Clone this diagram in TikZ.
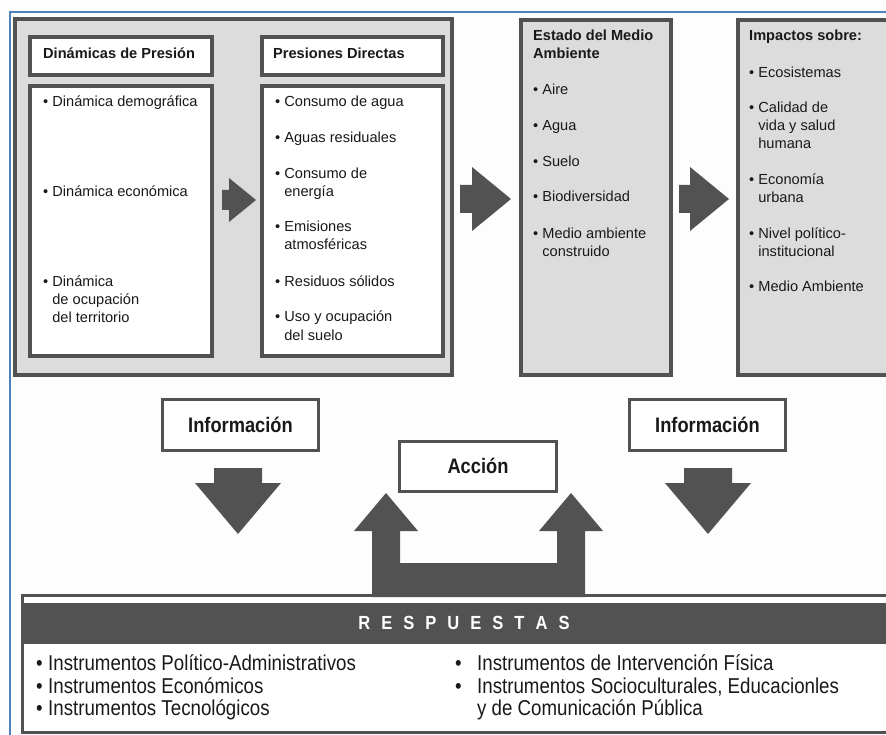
\documentclass[tikz,border=0pt]{standalone}
\usepackage{fontspec}
\setmainfont{Liberation Sans}
\newfontfamily\narrowsans[FakeStretch=0.87]{Liberation Sans}

\definecolor{frameblue}{RGB}{79,129,189}
\definecolor{ink}{RGB}{82,82,82}
\definecolor{panel}{RGB}{220,220,220}
\definecolor{paper}{RGB}{253,253,253}
\definecolor{txt}{RGB}{25,25,25}

% stacked lines sharing the baseline of the first one
\newcommand\stacklines[1]{\vtop{\baselineskip=18pt\halign{##\hfil\cr#1\crcr}}}

\begin{document}
\begin{tikzpicture}[x=1pt,y=-1pt,
  panelbox/.style={draw=ink,line width=4pt,fill=panel},
  whitebox/.style={draw=ink,line width=3.5pt,fill=white},
  tagbox/.style={draw=ink,line width=3pt,fill=white},
  blockarrow/.style={fill=ink,draw=none},
  body/.style={font=\fontsize{14.6}{18}\selectfont,anchor=base west,inner sep=0pt,text=txt},
  head/.style={body,font=\fontsize{14.6}{18}\selectfont\bfseries},
  tag/.style={font=\narrowsans\fontsize{21}{24}\selectfont\bfseries,anchor=base,inner sep=0pt,text=txt},
  resp/.style={font=\narrowsans\fontsize{21.5}{22.5}\selectfont,anchor=base west,inner sep=0pt,text=txt}]

\useasboundingbox (0,0) rectangle (886,735);
\clip (0,0) rectangle (886,735);
\fill[paper] (0,0) rectangle (886,735);

% outer frame
\draw[frameblue,line width=2pt] (9.5,760) -- (9.5,12.5) -- (900,12.5);

% ---------- upper row ----------
\draw[panelbox] (15,19) rectangle (452,375);
\draw[whitebox] (30,37) rectangle (212,75);
\draw[whitebox] (30,86) rectangle (212,356);
\draw[whitebox] (262,37) rectangle (443,75);
\draw[whitebox] (262,86) rectangle (443,356);
\draw[panelbox] (521,20) rectangle (671,375);
\draw[panelbox] (738,20) rectangle (905,375);

% block arrows between the columns
\fill[blockarrow] (222,190) -- (229,190) -- (229,178) -- (256,200) -- (229,222) -- (229,210) -- (222,210) -- cycle;
\fill[blockarrow] (460,185) -- (472,185) -- (472,167) -- (511,199) -- (472,231) -- (472,213) -- (460,213) -- cycle;
\fill[blockarrow] (679,185) -- (690,185) -- (690,167) -- (729,199) -- (690,231) -- (690,213) -- (679,213) -- cycle;

% Dinámicas de Presión
\node[head] (dp) at (43,59) {Dinámicas de Presión};
\node[body] (dp1) at (43,107) {• Dinámica demográfica};
\node[body] (dp2) at (43,197) {• Dinámica económica};
\node[body] (dp3) at (43,287) {•~\stacklines{Dinámica\cr de ocupación\cr del territorio}};

% Presiones Directas
\node[head] (pd) at (273,59) {Presiones Directas};
\node[body] (pd1) at (275,107) {• Consumo de agua};
\node[body] (pd2) at (275,143) {• Aguas residuales};
\node[body] (pd3) at (275,179) {•~\stacklines{Consumo de\cr energía}};
\node[body] (pd4) at (275,232) {•~\stacklines{Emisiones\cr atmosféricas}};
\node[body] (pd5) at (275,287) {• Residuos sólidos};
\node[body] (pd6) at (275,322) {•~\stacklines{Uso y ocupación\cr del suelo}};

% Estado del Medio Ambiente
\node[head] (em) at (533,41) {\stacklines{Estado del Medio\cr Ambiente}};
\node[body] (em1) at (533,95) {• Aire};
\node[body] (em2) at (533,131) {• Agua};
\node[body] (em3) at (533,167) {• Suelo};
\node[body] (em4) at (533,202) {• Biodiversidad};
\node[body] (em5) at (533,239) {•~\stacklines{Medio ambiente\cr construido}};

% Impactos
\node[head] (im) at (749,41) {Impactos sobre:};
\node[body] (im1) at (749,78) {• Ecosistemas};
\node[body] (im2) at (749,113) {•~\stacklines{Calidad de\cr vida y salud\cr humana}};
\node[body] (im3) at (749,185) {•~\stacklines{Economía\cr urbana}};
\node[body] (im4) at (749,239) {•~\stacklines{Nivel político-\cr institucional}};
\node[body] (im5) at (749,292) {• Medio Ambiente};

% ---------- information / action ----------
\draw[tagbox] (162.5,399.5) rectangle (318.5,450.5);
\draw[tagbox] (629.5,399.5) rectangle (785.5,450.5);
\draw[tagbox] (399.5,441.5) rectangle (556.5,491.5);
\node[tag] (info1) at (240.5,432) {Información};
\node[tag] (info2) at (707.5,432) {Información};
\node[tag] (accion) at (478,473) {Acción};

\fill[blockarrow] (214,468) -- (262,468) -- (262,483) -- (281,483) -- (238,534) -- (195,483) -- (214,483) -- cycle;
\fill[blockarrow] (684,468) -- (732,468) -- (732,483) -- (751,483) -- (708,534) -- (665,483) -- (684,483) -- cycle;

% ---------- responses ----------
\draw[ink,line width=3pt,fill=white] (22.5,595.5) rectangle (905,732.5);
\fill[ink] (24,603) rectangle (905,644);

% action arrows rising from the responses bar
\fill[blockarrow] (372,597) -- (372,531) -- (354,531) -- (386,493) -- (418,531) -- (400,531)
  -- (400,563) -- (557,563) -- (557,531) -- (539,531) -- (571,493) -- (603,531) -- (585,531)
  -- (585,597) -- cycle;

\node[font=\narrowsans\fontsize{19}{20}\selectfont\bfseries,text=white,anchor=base,inner sep=0pt]
  (resp) at (464,629) {\spaceskip=11pt R E S P U E S T A S};

\node[resp] (r1b) at (36,670) {•};
\node[resp] (r1) at (48,670) {Instrumentos Político-Administrativos};
\node[resp] (r2b) at (36,693) {•};
\node[resp] (r2) at (48,693) {Instrumentos Económicos};
\node[resp] (r3b) at (36,715) {•};
\node[resp] (r3) at (48,715) {Instrumentos Tecnológicos};
\node[resp] (r4b) at (455,670) {•};
\node[resp] (r4) at (477,670) {Instrumentos de Intervención Física};
\node[resp] (r5b) at (455,693) {•};
\node[resp] (r5) at (477,693) {Instrumentos Socioculturales, Educacionles};
\node[resp] (r6) at (477,715) {y de Comunicación Pública};

\end{tikzpicture}
\end{document}
